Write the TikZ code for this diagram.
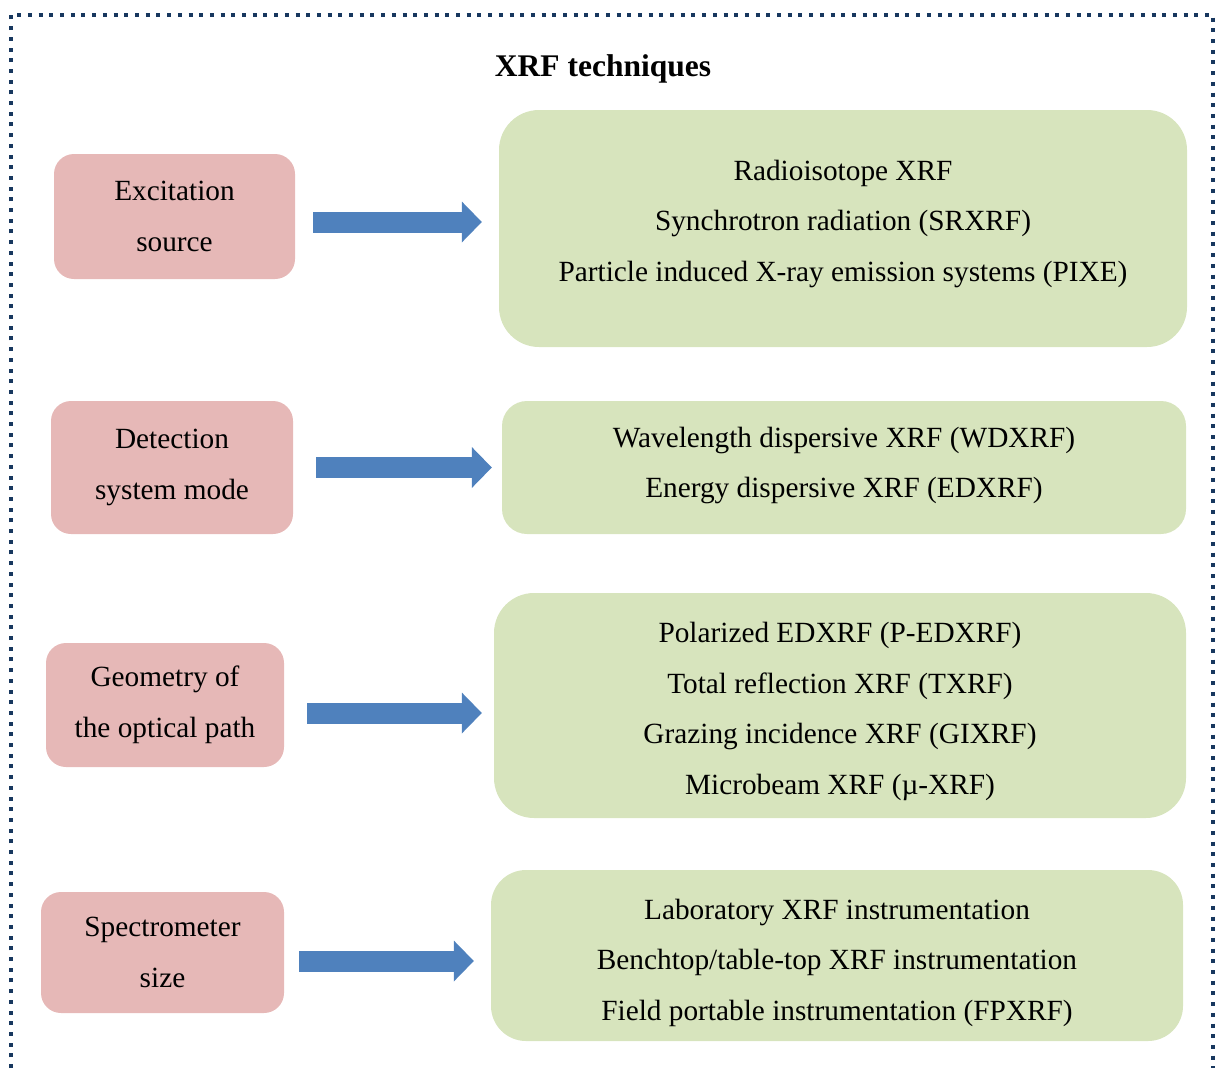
\documentclass[tikz,border=0pt]{standalone}
\usepackage{fontspec}
\setmainfont{Liberation Serif}
\usepackage{xcolor}
\usepackage{tikz}
\usetikzlibrary{arrows.meta}

\definecolor{pinkbox}{HTML}{E6B8B7}
\definecolor{greenbox}{HTML}{D7E4BD}
\definecolor{arrowblue}{HTML}{4F81BD}
\definecolor{framenavy}{HTML}{17375E}

\begin{document}
\begin{tikzpicture}[x=1pt,y=-1pt,
	kind/.style={fill=pinkbox,rounded corners=20pt,align=center,inner sep=0pt,
		font=\fontsize{29.3}{50.5}\selectfont},
	result/.style={fill=greenbox,inner sep=0pt},
	items/.style={align=center,inner sep=0pt,font=\fontsize{29.3}{50.5}\selectfont},
	blockarrow/.style={draw=arrowblue,line width=21pt,
		-{Triangle[length=20pt,width=41pt,line width=0pt]}}]
	\useasboundingbox (0,0) rectangle (1215,1068);
%	frame
	\draw[framenavy,line width=4pt,dash pattern=on 4pt off 6.7pt]
		(11,1068) -- (11,15) -- (1213,15) -- (1213,1068);
	\node[font=\fontsize{31.5}{36}\selectfont\bfseries] (title) at (603,69) {XRF techniques};
%	left column
	\node[kind,minimum width=241pt,minimum height=125pt] (src) at (174.5,216.5) {Excitation\\source};
	\node[kind,minimum width=242pt,minimum height=133pt] (det) at (172,467.5) {Detection\\system mode};
	\node[kind,minimum width=238pt,minimum height=124pt] (geo) at (165,705) {Geometry of\\the optical path};
	\node[kind,minimum width=243pt,minimum height=121pt] (sz) at (162.5,952.5) {Spectrometer\\size};
%	right column
	\node[result,rounded corners=40pt,minimum width=688pt,minimum height=237pt] (res1) at (843,228.5) {};
	\node[items] (res1list) at ([yshift=5pt]res1.center)
		{Radioisotope XRF\\Synchrotron radiation (SRXRF)\\Particle induced X-ray emission systems (PIXE)};
	\node[result,rounded corners=25pt,minimum width=684pt,minimum height=133pt] (res2) at (844,467.5) {};
	\node[items] (res2list) at ([yshift=2pt]res2.center)
		{Wavelength dispersive XRF (WDXRF)\\Energy dispersive XRF (EDXRF)};
	\node[result,rounded corners=40pt,minimum width=692pt,minimum height=225pt] (res3) at (840,705.5) {};
	\node[items] (res3list) at ([yshift=-6pt]res3.center)
		{Polarized EDXRF (P-EDXRF)\\Total reflection XRF (TXRF)\\Grazing incidence XRF (GIXRF)\\Microbeam XRF (µ-XRF)};
	\node[result,rounded corners=35pt,minimum width=692pt,minimum height=171pt] (res4) at (837,955.5) {};
	\node[items] (res4list) at ([yshift=-7pt]res4.center)
		{Laboratory XRF instrumentation\\Benchtop/table-top XRF instrumentation\\Field portable instrumentation (FPXRF)};
%	arrows
	\draw[blockarrow] ([shift={(18,5.5)}]src.east) -- ([shift={(-17,-6.5)}]res1.west);
	\draw[blockarrow] ([shift={(23,0)}]det.east) -- ([shift={(-10,0)}]res2.west);
	\draw[blockarrow] ([shift={(23,8)}]geo.east) -- ([shift={(-12,7.5)}]res3.west);
	\draw[blockarrow] ([shift={(15,8.5)}]sz.east) -- ([shift={(-17,5.5)}]res4.west);
\end{tikzpicture}
\end{document}
